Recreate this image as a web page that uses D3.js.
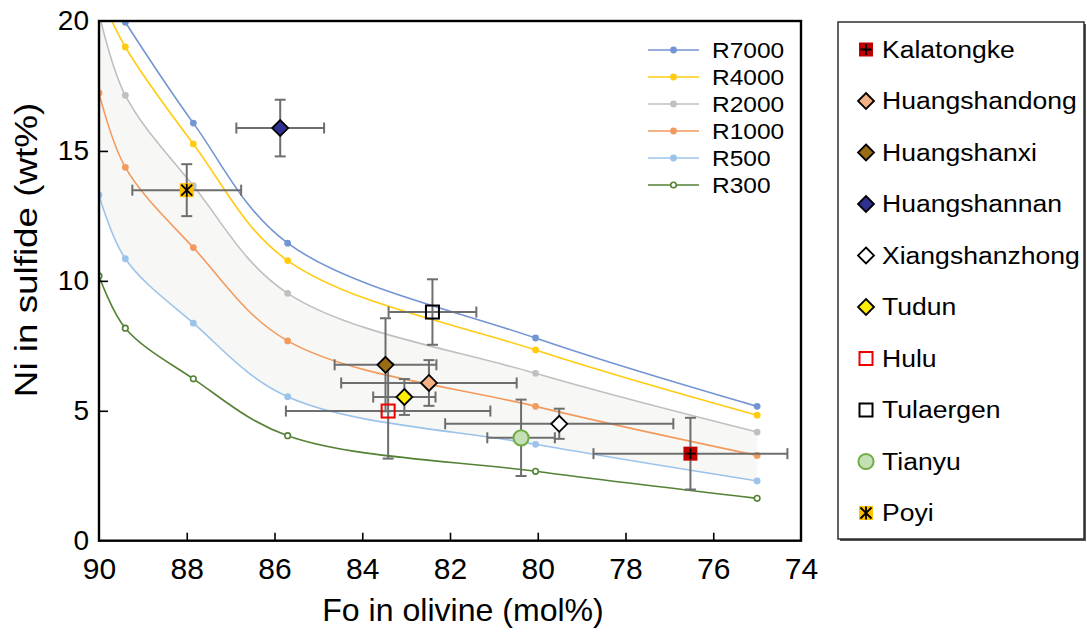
<!DOCTYPE html>
<html>
<head>
<meta charset="utf-8">
<script src="https://cdn.jsdelivr.net/npm/d3@7"></script>
<style>
  html, body { margin: 0; padding: 0; background: #fff; }
  svg { display: block; font-family: "Liberation Sans", Arial, Helvetica, sans-serif; }
</style>
</head>
<body>
<svg id="chart" width="1087" height="633"></svg>
<script>
// Forsterite content of olivine (mol%) at which each R-factor curve is evaluated
const foGrid = [90, 89.4, 87.85, 85.7, 80.05, 75];

// Modelled Ni in sulfide (wt%) for each silicate/sulfide mass ratio
const r7000 = [null, 19.95, 16.07, 11.45, 7.8, 5.17];
const r4000 = [21.1, 19.0, 15.27, 10.78, 7.34, 4.83];
const r2000 = [20.3, 17.14, 13.66, 9.52, 6.44, 4.18];
const r1000 = [17.23, 14.37, 11.28, 7.69, 5.17, 3.28];
const r500  = [13.3, 10.85, 8.37, 5.54, 3.71, 2.3];
const r300  = [10.19, 8.18, 6.23, 4.04, 2.67, 1.63];

const curveNames  = ["R7000", "R4000", "R2000", "R1000", "R500", "R300"];
const curveValues = [r7000, r4000, r2000, r1000, r500, r300];
const curveColors = ["#7395d3", "#ffcc11", "#c0c0c0", "#f39b5e", "#9cc3ea", "#548235"];

// Deposit averages with their spread
const sites  = ["Kalatongke", "Huangshandong", "Huangshanxi", "Huangshannan", "Xiangshanzhong",
                "Tudun", "Hulu", "Tulaergen", "Tianyu", "Poyi"];
const siteFo    = [76.52, 82.48, 83.47, 85.87, 79.51, 83.04, 83.41, 82.4, 80.38, 88.0];
const siteNi    = [3.35, 6.07, 6.77, 15.88, 4.5, 5.53, 4.99, 8.8, 3.96, 13.49];
const siteFoErr = [2.21, 2.0, 1.16, 1.0, 2.6, 0.71, 2.33, 1.0, 0.77, 1.24];
const siteNiErr = [1.38, 0.88, 1.79, 1.09, 0.58, 0.69, 1.83, 1.26, 1.47, 1.0];

// Marker style per deposit
const siteShape  = ["squarePlus", "diamond", "diamond", "diamond", "diamond", "diamond",
                    "square", "square", "circle", "squareStar"];
const siteFill   = ["#c00000", "#f4b183", "#9c6b16", "#2e3192", "#ffffff", "#ffee00",
                    "none", "none", "#c5e0b4", "#ffc000"];
const siteStroke = ["#c00000", "#000000", "#000000", "#000000", "#000000", "#000000",
                    "#ee0000", "#000000", "#70ad47", "#ffc000"];

const xTicks = [90, 88, 86, 84, 82, 80, 78, 76, 74];
const yTicks = [0, 5, 10, 15, 20];

const svg = d3.select("#chart");

const x = d3.scaleLinear().domain([90, 74]).range([99, 801]);
const y = d3.scaleLinear().domain([0, 20]).range([540.7, 21]);

svg.append("defs").append("clipPath").attr("id", "plotClip")
  .append("rect")
  .attr("x", x(90)).attr("y", y(20))
  .attr("width", x(74) - x(90)).attr("height", y(0) - y(20));

const plot = svg.append("g").attr("clip-path", "url(#plotClip)");

// Shaded field between the R2000 and R500 curves
const band = foGrid.map((f, i) => ({ f, hi: r2000[i], lo: r500[i] }));
plot.append("path")
  .datum(band)
  .attr("fill", "#f7f7f5")
  .attr("d", d3.area()
    .x(d => x(d.f))
    .y0(d => y(d.lo))
    .y1(d => y(d.hi))
    .curve(d3.curveCatmullRom.alpha(0.5)));

// R-factor curves
const line = d3.line()
  .defined(d => d.v != null)
  .x(d => x(d.f))
  .y(d => y(d.v))
  .curve(d3.curveCatmullRom.alpha(0.5));

curveValues.forEach((vals, k) => {
  const pts = foGrid.map((f, i) => ({ f, v: vals[i] })).filter(d => d.v != null);
  plot.append("path")
    .datum(pts)
    .attr("fill", "none")
    .attr("stroke", curveColors[k])
    .attr("stroke-width", 1.6)
    .attr("d", line);
  const hollow = curveNames[k] === "R300";
  plot.selectAll(null)
    .data(pts)
    .enter().append("circle")
    .attr("cx", d => x(d.f))
    .attr("cy", d => y(d.v))
    .attr("r", hollow ? 2.8 : 3.4)
    .attr("fill", hollow ? "#ffffff" : curveColors[k])
    .attr("stroke", hollow ? curveColors[k] : "none")
    .attr("stroke-width", 1.6);
});

// Error bars
const errColor = "#6e6e6e";
const cap = 5.5;
const eb = svg.append("g").attr("stroke", errColor).attr("stroke-width", 2).attr("fill", "none");
sites.forEach((s, i) => {
  const cx = x(siteFo[i]), cy = y(siteNi[i]);
  const xl = x(siteFo[i] + siteFoErr[i]), xr = x(siteFo[i] - siteFoErr[i]);
  const yt = y(siteNi[i] + siteNiErr[i]), yb = y(siteNi[i] - siteNiErr[i]);
  eb.append("line").attr("x1", xl).attr("x2", xr).attr("y1", cy).attr("y2", cy);
  eb.append("line").attr("x1", xl).attr("x2", xl).attr("y1", cy - cap).attr("y2", cy + cap);
  eb.append("line").attr("x1", xr).attr("x2", xr).attr("y1", cy - cap).attr("y2", cy + cap);
  eb.append("line").attr("x1", cx).attr("x2", cx).attr("y1", yt).attr("y2", yb);
  eb.append("line").attr("x1", cx - cap).attr("x2", cx + cap).attr("y1", yt).attr("y2", yt);
  eb.append("line").attr("x1", cx - cap).attr("x2", cx + cap).attr("y1", yb).attr("y2", yb);
});

// Marker drawing shared by plot and legend
function marker(g, i, cx, cy) {
  const shape = siteShape[i];
  if (shape === "diamond") {
    const h = 8;
    g.append("path")
      .attr("d", `M${cx},${cy - h}L${cx + h},${cy}L${cx},${cy + h}L${cx - h},${cy}Z`)
      .attr("fill", siteFill[i]).attr("stroke", siteStroke[i]).attr("stroke-width", 1.8);
  } else if (shape === "square") {
    const h = 6.5;
    g.append("rect").attr("x", cx - h).attr("y", cy - h).attr("width", 2 * h).attr("height", 2 * h)
      .attr("fill", siteFill[i]).attr("stroke", siteStroke[i]).attr("stroke-width", 2);
  } else if (shape === "circle") {
    g.append("circle").attr("cx", cx).attr("cy", cy).attr("r", 7.6)
      .attr("fill", siteFill[i]).attr("stroke", siteStroke[i]).attr("stroke-width", 2);
  } else if (shape === "squarePlus") {
    const h = 7;
    g.append("rect").attr("x", cx - h).attr("y", cy - h).attr("width", 2 * h).attr("height", 2 * h)
      .attr("fill", siteFill[i]);
    g.append("path").attr("d", `M${cx - 5.5},${cy}H${cx + 5.5}M${cx},${cy - 5.5}V${cy + 5.5}`)
      .attr("stroke", "#000").attr("stroke-width", 1.8);
  } else if (shape === "squareStar") {
    const h = 7;
    g.append("rect").attr("x", cx - h).attr("y", cy - h).attr("width", 2 * h).attr("height", 2 * h)
      .attr("fill", siteFill[i]);
    g.append("path")
      .attr("d", `M${cx - 5.5},${cy - 5.5}L${cx + 5.5},${cy + 5.5}M${cx + 5.5},${cy - 5.5}L${cx - 5.5},${cy + 5.5}M${cx},${cy - 6.5}V${cy + 6.5}`)
      .attr("stroke", "#000").attr("stroke-width", 1.8);
  }
}

const marks = svg.append("g");
sites.forEach((s, i) => marker(marks, i, x(siteFo[i]), y(siteNi[i])));

// Plot frame
svg.append("rect")
  .attr("x", x(90)).attr("y", y(20))
  .attr("width", x(74) - x(90)).attr("height", y(0) - y(20))
  .attr("fill", "none").attr("stroke", "#000").attr("stroke-width", 2.4);

// Axes with inward ticks
const xAxis = svg.append("g").attr("transform", `translate(0,${y(0)})`)
  .call(d3.axisBottom(x).tickValues(xTicks).tickSize(-8).tickPadding(17).tickFormat(d3.format("d")));
xAxis.select(".domain").remove();
xAxis.selectAll(".tick line").attr("stroke", "#000").attr("stroke-width", 1.6);
xAxis.selectAll(".tick text").attr("font-size", 30).attr("fill", "#000")
  .attr("font-family", "Liberation Sans, Arial, sans-serif");

const yAxis = svg.append("g").attr("transform", `translate(${x(90)},0)`)
  .call(d3.axisLeft(y).tickValues(yTicks).tickSize(-9).tickPadding(10).tickFormat(d3.format("d")));
yAxis.select(".domain").remove();
yAxis.selectAll(".tick line").attr("stroke", "#000").attr("stroke-width", 1.6);
yAxis.selectAll(".tick text").attr("font-size", 28).attr("fill", "#000")
  .attr("font-family", "Liberation Sans, Arial, sans-serif");
// hide tick marks that sit on the frame corners
xAxis.selectAll(".tick").filter(d => d === 90 || d === 74).select("line").remove();
yAxis.selectAll(".tick").filter(d => d === 0 || d === 20).select("line").remove();

// Axis titles
svg.append("text")
  .attr("transform", `translate(${(x(90) + x(74)) / 2 + 13},621) scale(1.035,1)`)
  .attr("text-anchor", "middle").attr("font-size", 31).attr("fill", "#000")
  .text("Fo in olivine (mol%)");
svg.append("text")
  .attr("transform", `translate(37,250) rotate(-90) scale(1.15,1)`)
  .attr("text-anchor", "middle").attr("font-size", 32).attr("fill", "#000")
  .text("Ni in sulfide (wt%)");

// Curve legend inside the plot
const cl = svg.append("g");
curveNames.forEach((n, k) => {
  const ly = 50 + k * 27;
  const hollow = n === "R300";
  cl.append("line").attr("x1", 648).attr("x2", 699).attr("y1", ly).attr("y2", ly)
    .attr("stroke", curveColors[k]).attr("stroke-width", 1.6);
  cl.append("circle").attr("cx", 673.5).attr("cy", ly).attr("r", hollow ? 2.8 : 3.4)
    .attr("fill", hollow ? "#fff" : curveColors[k])
    .attr("stroke", hollow ? curveColors[k] : "none").attr("stroke-width", 1.6);
  cl.append("text")
    .attr("transform", `translate(712,${ly + 7.6}) scale(1.14,1)`)
    .attr("font-size", 21.5).attr("fill", "#000")
    .text(n);
});

// Deposit legend box
const lg = svg.append("g");
lg.append("rect").attr("x", 840).attr("y", 24).attr("width", 246).attr("height", 517)
  .attr("fill", "#555");
lg.append("rect").attr("x", 838).attr("y", 22).attr("width", 246).attr("height", 517)
  .attr("fill", "#fff").attr("stroke", "#222").attr("stroke-width", 1.4);
sites.forEach((s, i) => {
  const ly = 49.5 + i * 51.5;
  marker(lg, i, 866, ly);
  lg.append("text")
    .attr("transform", `translate(882,${ly + 8.4}) scale(1.13,1)`)
    .attr("font-size", 23.5).attr("fill", "#000")
    .text(s);
});
</script>
</body>
</html>
